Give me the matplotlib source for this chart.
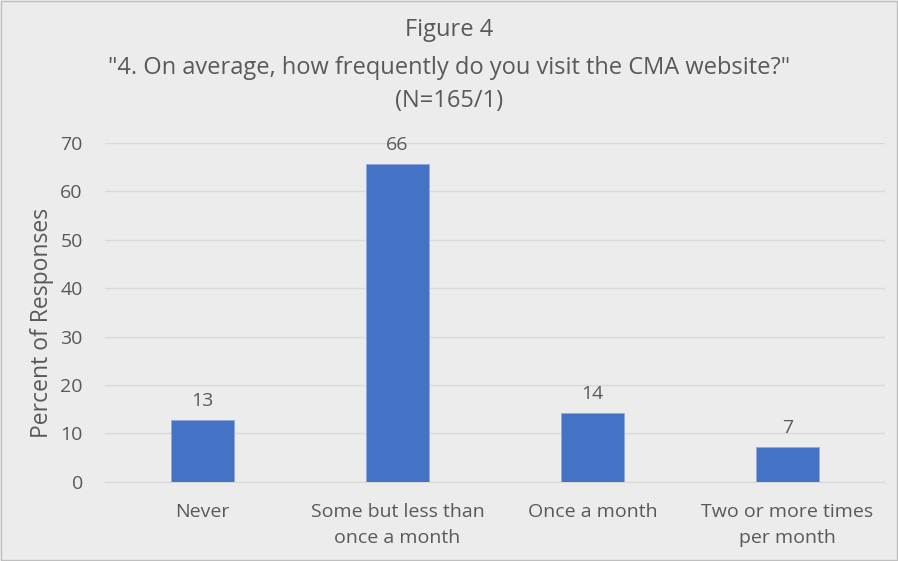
import matplotlib.pyplot as plt

categories = ['Never', 'Some but less than\nonce a month', 'Once a month', 'Two or more times\nper month']
values = [12.8, 65.7, 14.2, 7.3]
labels = ['13', '66', '14', '7']
yticks = [0, 10, 20, 30, 40, 50, 60, 70]

plt.rcParams['font.family'] = ['Open Sans', 'DejaVu Sans']
txt = '#595959'
bg = '#ececec'

fig = plt.figure(figsize=(8.98, 5.61), dpi=100, facecolor=bg)
ax = fig.add_axes([0.117, 0.141, 0.8685, 0.604])
ax.set_facecolor(bg)

x = range(len(categories))
bars = ax.bar(x, values, width=0.32, color='#4472c4', edgecolor='#8faadc', linewidth=0.6, zorder=3)
for b, lab in zip(bars, labels):
    ax.text(b.get_x() + b.get_width() / 2, b.get_height() + 2.0, lab,
            ha='center', va='bottom', fontsize=14, color=txt)

ax.set_xlim(-0.5, len(categories) - 0.5)
ax.set_ylim(0, 70)
ax.set_yticks(yticks)
ax.yaxis.grid(True, color='#d9d9d9', linewidth=1, zorder=0)
ax.set_xticks(list(x))
ax.set_xticklabels(categories, fontsize=14, color=txt, linespacing=1.6)
ax.tick_params(axis='y', labelsize=14, labelcolor=txt, length=0, pad=16)
ax.tick_params(axis='x', length=0, pad=15)
for s in ['top', 'right', 'left']:
    ax.spines[s].set_visible(False)
ax.spines['bottom'].set_color('#d9d9d9')
ax.set_ylabel('Percent of Responses', fontsize=16.5, color=txt)
ax.yaxis.set_label_coords(-0.066, 0.469)

fig.text(0.5, 1 - 30 / 561, 'Figure 4', ha='center', va='center', fontsize=17, color=txt)
fig.text(0.5, 1 - 68 / 561, '"4. On average, how frequently do you visit the CMA website?"',
         ha='center', va='center', fontsize=17, color=txt)
fig.text(0.5, 1 - 101 / 561, '(N=165/1)', ha='center', va='center', fontsize=17, color=txt)

# thin border like the excel chart frame
fig.patches.append(plt.Rectangle((0.001, 0.001), 0.998, 0.998, transform=fig.transFigure,
                                 fill=False, edgecolor='#bfbfbf', linewidth=1))

fig.savefig('out.png', dpi=100, facecolor=bg)
